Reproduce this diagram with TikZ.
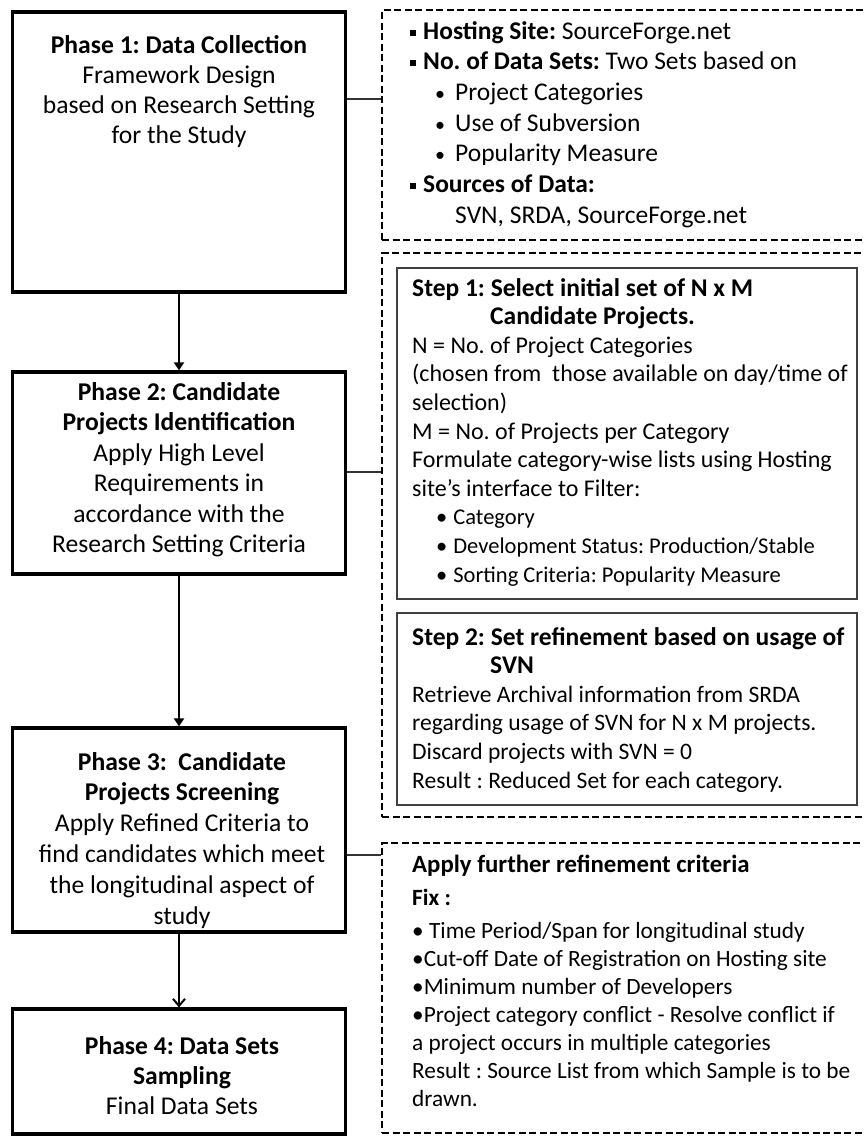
\documentclass[tikz,border=0pt]{standalone}
\usepackage{fontspec}
\setmainfont{Carlito}
\usetikzlibrary{arrows.meta}
\frenchspacing
\newcommand{\sqb}{\raisebox{3.5pt}{\rule{6pt}{6pt}}\hspace{7pt}}
\tikzset{
  phasebox/.style={draw, rectangle, line width=3.2pt, minimum width=333pt, inner sep=0pt},
  dashbox/.style={draw, rectangle, dash pattern=on 7pt off 3.5pt, line width=2pt, minimum width=640pt, inner sep=0pt},
  stepbox/.style={draw=black!75, rectangle, line width=1.5pt, minimum width=460pt, inner sep=0pt},
  flow/.style={line width=2pt, -{Triangle[width=10pt,length=8pt]}},
  flowopen/.style={line width=2pt, -{Straight Barb[width=12pt,length=7pt,line width=2pt]}},
  link/.style={line width=1.6pt, draw=black!80},
  ctxt/.style={inner sep=0pt, anchor=base},
  ltxt/.style={inner sep=0pt, anchor=base west},
}
\begin{document}
\begin{tikzpicture}[x=1pt,y=-1pt]
\clip (0,0) rectangle (863,1136);
\fill[white] (0,0) rectangle (863,1136);

% phase boxes
\node[phasebox, minimum height=280pt] (p1) at (179,152) {};
\node[phasebox, minimum height=202pt] (p2) at (179,473) {};
\node[phasebox, minimum height=204pt] (p3) at (179,830) {};
\node[phasebox, minimum height=125pt] (p4) at (179,1071.5) {};

% dashed boxes (right side runs off the page)
\node[dashbox, minimum height=230pt] (d1) at (702,125) {};
\node[dashbox, minimum height=564pt] (d2) at (702,535) {};
\node[dashbox, minimum height=290pt] (d3) at (702,988) {};
\node[stepbox, minimum height=331pt] (s1) at (627,433.5) {};
\node[stepbox, minimum height=192pt] (s2) at (627,709) {};

% phase texts
\node[ctxt] (t1) at (179,53) {\parbox[t]{330pt}{\centering\fontsize{25.6}{30.3}\selectfont
  \textbf{Phase 1: Data Collection}\\
  Framework Design\\
  based on Research Setting\\
  for the Study}};
\node[ctxt] (t2) at (179,400) {\parbox[t]{330pt}{\centering\fontsize{25.6}{30.5}\selectfont
  \textbf{Phase 2: Candidate}\\
  \textbf{Projects Identification}\\
  Apply High Level\\
  Requirements in\\
  accordance with the\\
  Research Setting Criteria}};
\node[ctxt] (t3) at (182,770) {\parbox[t]{330pt}{\centering\fontsize{25.6}{30.8}\selectfont
  \textbf{Phase 3:\ \ Candidate}\\
  \textbf{Projects Screening}\\
  Apply Refined Criteria to\\
  find candidates which meet\\
  the longitudinal aspect of\\
  study}};
\node[ctxt] (t4) at (182,1054) {\parbox[t]{330pt}{\centering\fontsize{25.6}{30}\selectfont
  \textbf{Phase 4: Data Sets}\\
  \textbf{Sampling}\\
  Final Data Sets}};

% dashed box 1 text
\node[ltxt] (dt1) at (410,39) {\parbox[t]{450pt}{\raggedright\fontsize{25.5}{30.7}\selectfont
  \sqb\textbf{Hosting Site:} SourceForge.net\\
  \sqb\textbf{No. of Data Sets:} Two Sets based on\\
  \hspace{25pt}{\fontsize{20}{20}\selectfont\textbullet}\hspace{10pt}Project Categories\\
  \hspace{25pt}{\fontsize{20}{20}\selectfont\textbullet}\hspace{10pt}Use of Subversion\\
  \hspace{25pt}{\fontsize{20}{20}\selectfont\textbullet}\hspace{10pt}Popularity Measure\\
  \sqb\textbf{Sources of Data:}\\
  \hspace{45pt}SVN, SRDA, SourceForge.net}};

% step 1 text
\node[ltxt] (st1) at (412,296) {\parbox[t]{442pt}{\raggedright\fontsize{24}{28.6}\selectfont
  \textbf{\fontsize{25.5}{28.6}\selectfont Step 1: Select initial set of N x M}\\
  \hspace{78pt}\textbf{\fontsize{25.5}{28.6}\selectfont Candidate Projects.}\\
  N = No. of Project Categories\\
  (chosen from\ \ those available on day/time of\\
  selection)\\
  M = No. of Projects\ per Category\\
  Formulate category-wise lists using Hosting\\
  site’s interface to Filter:\\
  {\fontsize{22.5}{28.6}\selectfont
  \hspace{24pt}\textbullet\hspace{6pt}Category\\
  \hspace{24pt}\textbullet\hspace{6pt}Development\ Status: Production/Stable\\
  \hspace{24pt}\textbullet\hspace{6pt}Sorting Criteria: Popularity Measure}}};

% step 2 text
\node[ltxt] (st2) at (412,645) {\parbox[t]{442pt}{\raggedright\fontsize{23.6}{28.6}\selectfont
  \textbf{\fontsize{25.5}{28.6}\selectfont Step 2: Set refinement based on usage of}\\
  \hspace{78pt}\textbf{\fontsize{25.5}{28.6}\selectfont SVN}\\
  Retrieve Archival information from SRDA\\
  regarding usage of SVN for N x M projects.\\
  Discard projects with SVN = 0\\
  Result : Reduced Set for each category.}};

% dashed box 3 text
\node[ltxt] (dt3) at (412,872) {\parbox[t]{447pt}{\raggedright\fontsize{23.3}{28}\selectfont
  \textbf{\fontsize{24.8}{28}\selectfont Apply further refinement criteria}\\[5pt]
  \textbf{Fix :}\\[5pt]
  \textbullet\ Time Period/Span for longitudinal study\\
  \textbullet Cut-off Date of Registration on Hosting site\\
  \textbullet Minimum number of Developers\\
  \textbullet Project category conflict - Resolve conflict if\\
  a project occurs in multiple categories\\
  Result : Source List\ from which Sample is to be\\
  drawn.}};

% connectors
\coordinate (k1) at (0,99);
\coordinate (k2) at (0,472);
\coordinate (k3) at (0,855);
\draw[link] (p1.east |- k1) -- (d1.west |- k1);
\draw[link] (p2.east |- k2) -- (d2.west |- k2);
\draw[link] (p3.east |- k3) -- (d3.west |- k3);

\draw[flow] (p1.south) -- (p2.north);
\draw[flow] (p2.south) -- (p3.north);
\draw[flowopen] (p3.south) -- (p4.north);
\end{tikzpicture}
\end{document}
